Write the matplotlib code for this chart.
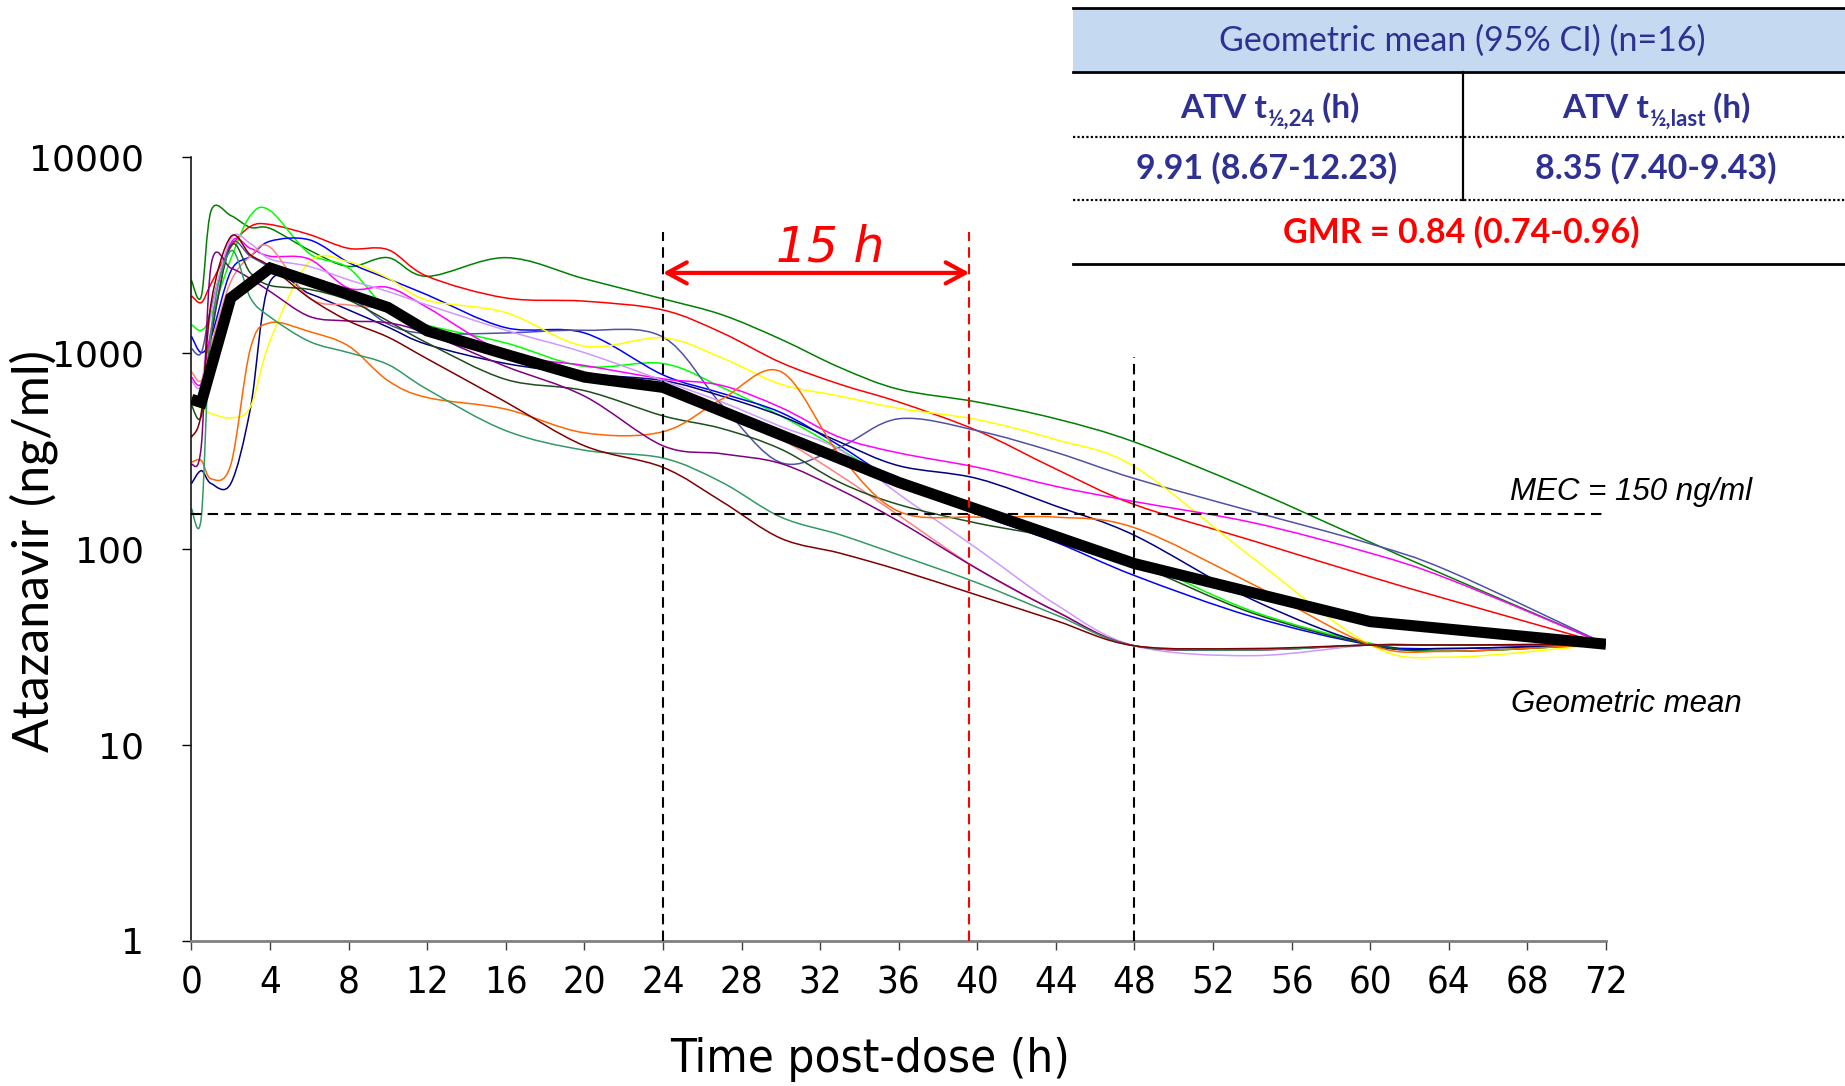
import numpy as np
import matplotlib
matplotlib.use("Agg")
import matplotlib.pyplot as plt
import matplotlib.transforms as mtransforms
from matplotlib.path import Path
from matplotlib.patches import PathPatch, Rectangle
from matplotlib.ticker import NullLocator

# sampling times (h) shared by all subjects
hours = [0, 0.5, 1, 2, 3, 4, 6, 8, 10, 12, 16, 20, 24, 27, 30, 33, 36, 40, 44, 48, 54, 60, 64, 72]

# individual atazanavir concentrations (ng/ml), one list per subject
s_dkgreen = [2330, 1940, 5300, 5000, 4350, 4300, 3330, 2750, 3050, 2450, 3050, 2380, 1880, 1560, 1170, 840, 650, 560, 460, 350, 200, 108, 72, 32.6]
s_red = [1950, 1800, 2250, 3450, 4400, 4500, 4000, 3400, 3350, 2450, 1900, 1830, 1650, 1263, 890, 690, 560, 400, 255, 168, 110, 72, 55, 32.6]
s_lime = [1390, 1300, 1550, 3000, 5000, 5300, 3200, 2700, 1650, 1380, 1120, 850, 880, 665, 476, 322, 215, 150, 115, 88, 48, 33, 30, 32.6]
s_blue = [1210, 1000, 1200, 2600, 3100, 3700, 3760, 2880, 2380, 1970, 1340, 1260, 770, 620, 495, 335, 218, 150, 108, 73, 45, 32.4, 31, 32.6]
s_slate = [1050, 1000, 1700, 3600, 3100, 2750, 2300, 1950, 1400, 1250, 1260, 1300, 1200, 540, 275, 330, 460, 400, 310, 228, 155, 106, 77, 32.6]
s_navy = [215, 250, 215, 215, 520, 2300, 2000, 1650, 1350, 1100, 880, 780, 720, 600, 476, 350, 265, 228, 165, 117, 55, 32.4, 31, 32.6]
s_yellow = [600, 520, 490, 465, 530, 1150, 2900, 2900, 2400, 1850, 1600, 1080, 1190, 940, 690, 600, 520, 455, 360, 262, 90, 32.4, 28, 32.6]
s_magenta = [750, 700, 1300, 3600, 3400, 3100, 3000, 2130, 2150, 1700, 1000, 860, 735, 680, 525, 370, 308, 260, 208, 174, 136, 95, 70, 32.6]
s_lavender = [720, 690, 1600, 3800, 3600, 3000, 2750, 2350, 2050, 1750, 1300, 1000, 720, 560, 420, 320, 190, 100, 52, 32, 28.5, 32.3, 32.3, 32.6]
s_pink = [800, 720, 1100, 2300, 3100, 3450, 1900, 1750, 1650, 1350, 1000, 800, 630, 476, 362, 237, 148, 79, 48, 32, 30.5, 32.3, 32.3, 32.6]
s_forest = [540, 475, 1200, 3500, 2550, 2200, 2100, 1850, 1450, 1120, 730, 640, 476, 410, 322, 218, 168, 135, 113, 84, 47, 32.5, 30, 32.6]
s_orange = [276, 282, 227, 268, 1050, 1420, 1280, 1080, 720, 590, 515, 390, 395, 580, 800, 300, 155, 145, 145, 128, 66, 32.4, 30, 32.6]
s_purple = [268, 335, 2800, 2700, 2380, 2050, 1530, 1450, 1420, 1250, 850, 600, 335, 305, 272, 200, 138, 79, 48, 32, 30.5, 32.3, 32.3, 32.6]
s_seagreen = [160, 145, 1300, 3300, 1900, 1520, 1140, 1000, 870, 650, 400, 318, 290, 218, 145, 118, 93, 67, 46, 32, 30.5, 32.3, 32.3, 32.6]
s_maroon = [370, 495, 1800, 3900, 3150, 2750, 1900, 1450, 1200, 930, 560, 335, 260, 174, 113, 95, 78, 58, 43, 32, 31, 32.3, 32.3, 32.6]

subjects = [
    (s_dkgreen, "#008000"), (s_red, "#ff0000"), (s_lime, "#00ff00"),
    (s_blue, "#0000ff"), (s_slate, "#5050a8"), (s_navy, "#000080"),
    (s_yellow, "#ffff00"), (s_magenta, "#ff00ff"), (s_lavender, "#cc99ff"),
    (s_pink, "#ff8080"), (s_forest, "#1e4d1e"), (s_orange, "#ff6600"),
    (s_purple, "#800080"), (s_seagreen, "#339966"), (s_maroon, "#800000"),
]

# geometric mean profile
mean_hours = [0, 0.5, 2, 4, 10, 12, 16, 20, 24, 36, 48, 60, 72]
mean_conc = [578, 557, 1900, 2700, 1700, 1290, 980, 750, 665, 218, 84, 42.5, 32.6]

mec = 150
window_start, window_end, last_cut = 24, 39.6, 48
window_top, last_top = 4100, 950
arrow_level = 2550

x_ticks = list(range(0, 73, 4))
y_ticks = [1, 10, 100, 1000, 10000]


def smooth_path(t, v):
    # Excel-style smoothed line: cubic Bezier through the points,
    # control points computed in (time, log10 conc) space
    x = np.asarray(t, float)
    y = np.log10(np.asarray(v, float))
    n = len(x)
    verts = [(x[0], 10 ** y[0])]
    codes = [Path.MOVETO]
    for i in range(n - 1):
        a = max(i - 1, 0)
        b = min(i + 2, n - 1)
        c1 = (x[i] + (x[i + 1] - x[a]) / 6, y[i] + (y[i + 1] - y[a]) / 6)
        c2 = (x[i + 1] - (x[b] - x[i]) / 6, y[i + 1] - (y[b] - y[i]) / 6)
        verts += [(c1[0], 10 ** c1[1]), (c2[0], 10 ** c2[1]), (x[i + 1], 10 ** y[i + 1])]
        codes += [Path.CURVE4] * 3
    return Path(verts, codes)


fig = plt.figure(figsize=(18.45, 10.86), dpi=100)
ax = fig.add_axes([0.10379, 0.13352, 0.76667, 0.72237])
ax.set_yscale("log")
ax.set_xlim(0, 72)
ax.set_ylim(1, 10000)

for conc, col in subjects:
    ax.add_patch(PathPatch(smooth_path(hours, conc), facecolor="none",
                           edgecolor=col, lw=1.1, zorder=2))

ax.plot(mean_hours, mean_conc, color="black", lw=8, solid_joinstyle="miter",
        solid_capstyle="butt", zorder=3)

dash = (0, (5, 3))
ax.plot([0, 72], [mec, mec], color="black", lw=1.5, linestyle=dash, zorder=4)
ax.plot([window_start, window_start], [1, window_top], color="black", lw=1.5, linestyle=dash, zorder=4)
ax.plot([last_cut, last_cut], [1, last_top], color="black", lw=1.5, linestyle=dash, zorder=4)
ax.plot([window_end, window_end], [1, window_top], color="red", lw=1.5, linestyle=dash, zorder=4)

ax.annotate("", xy=(window_start, arrow_level), xytext=(window_end, arrow_level),
            arrowprops=dict(arrowstyle="<->,head_length=0.7,head_width=0.38",
                            color="red", lw=3, shrinkA=0, shrinkB=0,
                            mutation_scale=20), zorder=5)
ax.text((window_start + window_end) / 2 + 0.7, 2910, "15 h", color="red",
        fontsize=35, style="italic", ha="center", va="baseline",
        family="DejaVu Sans")

ax.set_xticks(x_ticks)
ax.set_xticklabels([str(v) for v in x_ticks], family="DejaVu Sans",
                   fontstretch="condensed", fontsize=27.5)
# x labels sit a few pixels right of their ticks
shift = mtransforms.ScaledTranslation(5 / 100, 0, fig.dpi_scale_trans)
for lab in ax.get_xticklabels():
    lab.set_transform(lab.get_transform() + shift)
ax.set_yticks(y_ticks)
ax.set_yticklabels([str(v) for v in y_ticks], family="DejaVu Sans", fontsize=26)
ax.yaxis.set_minor_locator(NullLocator())
ax.spines["top"].set_visible(False)
ax.spines["right"].set_visible(False)
ax.spines["left"].set_linewidth(1.1)
ax.spines["bottom"].set_color("#808080")
ax.spines["bottom"].set_linewidth(2)
ax.tick_params(axis="y", direction="out", length=6.5, width=1, pad=28)
ax.tick_params(axis="x", direction="out", length=6.5, width=1, pad=11,
               color="#404040")

fig.text(34 / 1845, 1 - 551 / 1086, "Atazanavir (ng/ml)", rotation=90,
         ha="center", va="center", fontsize=36, family="Lato")
fig.text(870 / 1845, 1 - 1060 / 1086, "Time post-dose (h)", ha="center",
         va="center", fontsize=34, family="DejaVu Sans", fontstretch="condensed")

# overlay in pixel units for the summary table and annotations
ov = fig.add_axes([0, 0, 1, 1], zorder=10)
ov.set_xlim(0, 1845)
ov.set_ylim(1086, 0)
ov.axis("off")
ov.patch.set_visible(False)

ov.text(1752, 500, "MEC = 150 ng/ml", ha="right", va="baseline", fontsize=22.5,
        style="italic", family="Liberation Sans")
ov.text(1626, 712, "Geometric mean", ha="center", va="baseline", fontsize=22.5,
        style="italic", family="Liberation Sans")

navy_txt = "#2e3192"
ov.add_patch(Rectangle((1073, 8), 772, 63, facecolor="#c5d9f1", edgecolor="none"))
ov.plot([1073, 1845], [8, 8], color="black", lw=2)
ov.plot([1073, 1845], [72, 72], color="black", lw=2)
ov.plot([1073, 1845], [136.5, 136.5], color="black", lw=1.6, linestyle=(0, (1, 1)))
ov.plot([1073, 1845], [200, 200], color="black", lw=1.6, linestyle=(0, (1, 1)))
ov.plot([1073, 1845], [263.6, 263.6], color="black", lw=2)
ov.plot([1462.7, 1462.7], [72, 200], color="black", lw=1.6)

ov.text(1462, 41, "Geometric mean (95% CI) (n=16)", ha="center", va="center",
        fontsize=24.5, color=navy_txt, family="Lato")


def half_life_label(x, y, sub):
    head = ov.text(x, y, "ATV t", ha="left", va="baseline", fontsize=24,
                   fontweight="bold", color=navy_txt, family="Lato")
    low = ov.annotate(sub, xy=(1, 0), xycoords=head, xytext=(0.5, -5),
                      textcoords="offset points", ha="left", va="bottom",
                      fontsize=16, fontweight="bold", color=navy_txt, family="Lato")
    ov.annotate(" (h)", xy=(1, 0), xycoords=(low, head), xytext=(-1, 0),
                textcoords="offset points", ha="left", va="bottom", fontsize=24,
                fontweight="bold", color=navy_txt, family="Lato")


half_life_label(1180, 118, "½,24")
half_life_label(1562, 118, "½,last")

ov.text(1267, 168, "9.91 (8.67-12.23)", ha="center", va="center", fontsize=24.5,
        fontweight="bold", color=navy_txt, family="Lato")
ov.text(1656, 168, "8.35 (7.40-9.43)", ha="center", va="center", fontsize=24.5,
        fontweight="bold", color=navy_txt, family="Lato")
ov.text(1461.5, 232, "GMR = 0.84 (0.74-0.96)", ha="center", va="center",
        fontsize=24.5, fontweight="bold", color="#ff0000", family="Lato")

fig.savefig("out.png", dpi=100, facecolor="white")
